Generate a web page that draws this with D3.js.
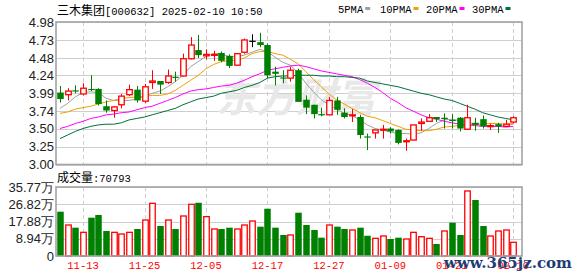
<!DOCTYPE html>
<html>
<head>
<meta charset="utf-8">
<style>
  body { margin: 0; background: #fff; }
  svg { display: block; }
  .ax { font-family: "Liberation Sans", Arial, sans-serif; font-size: 13px; fill: #222; }
  .mono { font-family: "Liberation Mono", monospace; }
  .cjk { font-family: "Noto Sans CJK SC", sans-serif; }
</style>
</head>
<body>
<svg id="chart" width="578" height="276"></svg>
<script src="https://cdn.jsdelivr.net/npm/d3@7"></script>
<script>

// trading days 2024-11-08 .. 2025-02-10
var dates = ["11-08","11-11","11-12","11-13","11-14","11-15","11-18","11-19","11-20","11-21",
             "11-22","11-25","11-26","11-27","11-28","11-29","12-02","12-03","12-04","12-05",
             "12-06","12-09","12-10","12-11","12-12","12-13","12-16","12-17","12-18","12-19",
             "12-20","12-23","12-24","12-25","12-26","12-27","12-30","12-31","01-02","01-03",
             "01-06","01-07","01-08","01-09","01-10","01-13","01-14","01-15","01-16","01-17",
             "01-20","01-21","01-22","01-23","01-24","01-27","02-05","02-06","02-07","02-10"];

var opens  = [4.00,3.97,4.03,3.98,4.05,4.05,3.81,3.75,3.83,3.97, 4.04,3.88,4.14,4.16,4.14,4.22,4.23,4.47,4.59,4.51,
              4.52,4.55,4.51,4.38,4.56,4.72,4.70,4.66,4.29,4.21, 4.20,4.31,3.90,3.83,3.70,3.69,3.89,3.72,3.68,3.66,
              3.39,3.44,3.48,3.50,3.48,3.32,3.34,3.57,3.60,3.66, 3.65,3.62,3.65,3.49,3.58,3.63,3.53,3.56,3.53,3.59];
var highs  = [4.09,4.06,4.10,4.13,4.24,4.06,3.89,3.81,3.98,4.11, 4.09,4.12,4.31,4.16,4.32,4.29,4.54,4.77,4.80,4.60,
              4.58,4.57,4.53,4.55,4.75,4.81,4.83,4.68,4.36,4.31, 4.36,4.33,3.96,3.83,3.79,3.94,3.94,3.78,3.77,3.69,
              3.43,3.48,3.55,3.52,3.49,3.36,3.55,3.64,3.70,3.66, 3.71,3.70,3.66,3.83,3.65,3.68,3.57,3.58,3.62,3.67];
var lows   = [3.86,3.89,3.99,3.96,4.02,3.82,3.72,3.65,3.78,3.95, 3.86,3.85,4.05,3.98,4.12,4.15,4.22,4.46,4.48,4.46,
              4.44,4.42,4.34,4.37,4.54,4.63,4.63,4.20,4.10,4.13, 4.15,3.87,3.70,3.64,3.67,3.69,3.69,3.64,3.59,3.36,
              3.20,3.36,3.36,3.43,3.28,3.19,3.34,3.47,3.60,3.59, 3.50,3.50,3.46,3.48,3.47,3.50,3.48,3.44,3.52,3.57];
var closes = [3.91,4.02,4.02,4.06,4.04,3.84,3.75,3.80,3.95,4.04, 3.89,4.08,4.16,4.11,4.23,4.21,4.47,4.66,4.52,4.53,
              4.53,4.44,4.37,4.54,4.73,4.72,4.66,4.24,4.26,4.20, 4.31,3.87,3.79,3.70,3.69,3.89,3.76,3.66,3.69,3.41,
              3.38,3.48,3.49,3.46,3.30,3.33,3.55,3.59,3.65,3.63, 3.63,3.61,3.50,3.65,3.55,3.53,3.54,3.53,3.56,3.65];

var ma5  = [3.78,3.85,3.94,4.00,4.01,4.00,3.92,3.89,3.89,3.89, 3.91,3.95,3.99,4.02,4.08,4.15,4.24,4.36,4.43,4.50,
            4.54,4.53,4.50,4.50,4.52,4.56,4.60,4.57,4.49,4.42, 4.38,4.27,4.13,4.01,3.90,3.83,3.77,3.71,3.68,3.62,
            3.55,3.50,3.48,3.45,3.43,3.43,3.42,3.44,3.50,3.57, 3.62,3.63,3.61,3.59,3.56,3.54,3.53,3.53,3.54,3.56];
var ma10 = [3.71,3.73,3.77,3.79,3.81,3.84,3.87,3.89,3.92,3.93, 3.94,3.95,3.96,3.96,3.98,4.03,4.10,4.17,4.24,4.33,
            4.39,4.43,4.44,4.45,4.48,4.54,4.57,4.57,4.54,4.52, 4.46,4.40,4.29,4.18,4.08,3.98,3.90,3.84,3.78,3.72,
            3.67,3.65,3.61,3.57,3.53,3.49,3.48,3.47,3.47,3.49, 3.52,3.53,3.54,3.55,3.56,3.56,3.57,3.57,3.56,3.57];
var ma20 = [3.50,3.53,3.57,3.60,3.64,3.66,3.69,3.70,3.72,3.73, 3.76,3.79,3.81,3.85,3.89,3.93,3.98,4.02,4.04,4.05,
            4.07,4.09,4.10,4.13,4.17,4.22,4.26,4.31,4.33,4.35, 4.37,4.38,4.36,4.33,4.30,4.28,4.26,4.24,4.22,4.18,
            4.13,4.07,4.00,3.92,3.86,3.79,3.74,3.69,3.65,3.63, 3.60,3.58,3.56,3.55,3.54,3.53,3.53,3.53,3.52,3.53];
var ma30 = [3.36,3.41,3.46,3.50,3.53,3.55,3.56,3.56,3.58,3.62, 3.64,3.66,3.69,3.72,3.75,3.78,3.83,3.87,3.91,3.93,
            3.95,3.99,4.01,4.03,4.07,4.10,4.14,4.20,4.22,4.23, 4.23,4.24,4.24,4.24,4.23,4.23,4.22,4.22,4.21,4.20,
            4.16,4.14,4.12,4.10,4.08,4.05,4.02,3.99,3.97,3.94, 3.91,3.89,3.85,3.81,3.77,3.72,3.69,3.66,3.64,3.62];

// volume in 万股, and whether the bar is drawn as "up" (red)
var volumes = [22.97,16.07,14.68,12.27,19.87,21.25,12.96,12.27,11.40,12.27, 14.00,18.66,27.30,15.55,18.66,14.00,20.74,26.80,27.60,20.40,
               14.00,14.00,14.68,14.00,16.07,18.14,15.20,24.50,14.68,10.89, 10.89,22.45,16.07,13.48,9.50,16.07,15.20,14.00,13.48,14.68,
               10.50,9.16,10.37,8.81,9.50,8.81,12.27,10.02,9.16,6.22, 12.96,17.28,10.89,33.70,29.03,15.55,10.37,12.96,13.48,7.10];
var volUp = [0,1,0,1,0,0,0,1,1,1, 0,1,1,0,1,0,1,1,0,1,
             1,0,0,1,1,1,0,0,0,0, 1,0,0,0,0,1,0,0,1,0,
             0,1,1,0,0,1,1,1,1,0, 1,0,0,1,0,0,1,1,1,1];

var priceTicks = [4.98,4.73,4.48,4.24,3.99,3.74,3.50,3.25,3.00];
var volTicks = [35.77,26.82,17.88,8.94,0];
var volTickLabels = ["35.77万","26.82万","17.88万","8.94万","0"];
var dateTicks = ["11-13","11-25","12-05","12-17","12-27","01-09","01-21","02-10"];

var maNames = ["5PMA","10PMA","20PMA","30PMA"];
var maColors = ["#a0a0a0","#f0a000","#ff00ff","#00703a"];

var RED = "#ff0000", GREEN = "#008000";

var svg = d3.select("#chart");
var left = 56, right = 522;
var pTop = 22, pBot = 164.5, vTop = 187, vBot = 256;

var x = d3.scaleLinear().domain([0, dates.length - 1]).range([60, 513.3]);
var y = d3.scaleLinear().domain([3.00, 4.98]).range([pBot, pTop]);
var yv = d3.scaleLinear().domain([0, 35.77]).range([vBot, vTop]);

function crisp(v) { return Math.round(v) + 0.5; }

// --- grids
function grid(scale, ticks, top, bot) {
  var g = svg.append("g");
  g.selectAll("line.h").data(ticks).enter().append("line")
    .attr("x1", left).attr("x2", right)
    .attr("y1", function(d) { return crisp(scale(d)); })
    .attr("y2", function(d) { return crisp(scale(d)); })
    .attr("stroke", "#cfcfcf");
  g.selectAll("line.v").data(dateTicks).enter().append("line")
    .attr("x1", function(d) { return crisp(x(dates.indexOf(d))); })
    .attr("x2", function(d) { return crisp(x(dates.indexOf(d))); })
    .attr("y1", top).attr("y2", bot)
    .attr("stroke", "#cfcfcf")
    .attr("stroke-dasharray", "4,3");
}
grid(y, priceTicks, pTop, pBot);
grid(yv, volTicks, vTop, vBot);

// watermark
svg.append("text")
  .attr("x", 296).attr("y", 112)
  .attr("text-anchor", "middle")
  .attr("class", "cjk")
  .attr("font-size", 40).attr("font-weight", "bold").attr("font-style", "italic")
  .attr("fill", "#e8e8e8")
  .text("东方财富");

// --- MA lines
var maData = [ma5, ma10, ma20, ma30];
maData.forEach(function(arr, k) {
  var line = d3.line()
    .x(function(d, i) { return x(i); })
    .y(function(d) { return y(d); });
  svg.append("path")
    .datum(arr)
    .attr("fill", "none")
    .attr("stroke", maColors[k])
    .attr("stroke-width", 1)
    .attr("d", line);
});

// --- candles
var bw = 5.5;
var candles = svg.append("g").selectAll("g").data(dates).enter().append("g");
candles.each(function(d, i) {
  var g = d3.select(this);
  var o = opens[i], c = closes[i];
  var col = c > o ? RED : (c < o ? GREEN : "#000");
  var cx = Math.round(x(i)) + 0.5;
  var top = y(Math.max(o, c)), bot = y(Math.min(o, c));
  if (c > o) {
    g.append("line").attr("x1", cx).attr("x2", cx).attr("y1", y(highs[i])).attr("y2", top).attr("stroke", col);
    g.append("line").attr("x1", cx).attr("x2", cx).attr("y1", bot).attr("y2", y(lows[i])).attr("stroke", col);
    g.append("rect").attr("x", cx - bw / 2).attr("y", top)
      .attr("width", bw).attr("height", Math.max(bot - top, 1))
      .attr("fill", "#fff").attr("stroke", col).attr("stroke-width", 1.3);
  } else {
    g.append("line").attr("x1", cx).attr("x2", cx).attr("y1", y(highs[i])).attr("y2", y(lows[i])).attr("stroke", col);
    g.append("rect").attr("x", cx - bw / 2 - 0.5).attr("y", top)
      .attr("width", bw + 1).attr("height", Math.max(bot - top, 1.2))
      .attr("fill", col);
  }
});

// --- volume bars
svg.append("g").selectAll("rect").data(volumes).enter().append("rect")
  .each(function(v, i) {
    var cx = Math.round(x(i)) + 0.5;
    var r = d3.select(this);
    if (volUp[i]) {
      r.attr("x", cx - bw / 2).attr("y", yv(v)).attr("width", bw).attr("height", vBot - yv(v))
        .attr("fill", "#fff").attr("stroke", RED).attr("stroke-width", 1.3);
    } else {
      r.attr("x", cx - bw / 2 - 0.5).attr("y", yv(v)).attr("width", bw + 1).attr("height", vBot - yv(v))
        .attr("fill", GREEN);
    }
  });

// --- frames
[[pTop, pBot], [vTop, vBot]].forEach(function(f) {
  svg.append("rect")
    .attr("x", left).attr("y", f[0])
    .attr("width", right - left).attr("height", f[1] - f[0])
    .attr("fill", "none").attr("stroke", "#a3a3a3").attr("stroke-width", 1.6);
});

// --- axis labels
svg.append("g").selectAll("text").data(priceTicks).enter().append("text")
  .attr("class", "ax")
  .attr("x", 54).attr("y", function(d) { return y(d); })
  .attr("dy", "0.35em")
  .attr("text-anchor", "end")
  .text(function(d) { return d.toFixed(2); });

svg.append("g").selectAll("text").data(volTicks).enter().append("text")
  .attr("class", "ax")
  .attr("x", 54).attr("y", function(d) { return yv(d); })
  .attr("dy", "0.35em")
  .attr("text-anchor", "end")
  .text(function(d, i) { return volTickLabels[i]; });

svg.append("g").selectAll("text").data(dateTicks).enter().append("text")
  .attr("class", "mono")
  .attr("font-size", 10.5)
  .attr("fill", RED)
  .attr("x", function(d) { return x(dates.indexOf(d)); })
  .attr("y", 269)
  .attr("text-anchor", "middle")
  .text(function(d) { return d; });

// --- title and legend
var title = svg.append("text").attr("x", 57).attr("y", 15);
title.append("tspan").attr("class", "cjk").attr("font-size", 12).text("三木集团");
title.append("tspan").attr("class", "mono").attr("font-size", 10.5).text("[000632] 2025-02-10 10:50");

var volTitle = svg.append("text").attr("x", 57).attr("y", 182);
volTitle.append("tspan").attr("class", "cjk").attr("font-size", 12).text("成交量");
volTitle.append("tspan").attr("class", "mono").attr("font-size", 10.5).text(":70793");

var legX = [338, 380, 426, 472];
var leg = svg.append("g").selectAll("g").data(maNames).enter().append("g")
  .attr("transform", function(d, i) { return "translate(" + legX[i] + ",0)"; });
leg.append("text")
  .attr("class", "mono").attr("font-size", 10.5)
  .attr("y", 13)
  .text(function(d) { return d; });
leg.append("rect")
  .attr("x", function(d) { return d.length * 6.3 + 2; })
  .attr("y", 7).attr("width", 5).attr("height", 3)
  .attr("fill", function(d, i) { return maColors[i]; });

// site stamp
svg.append("text")
  .attr("x", 572).attr("y", 268)
  .attr("text-anchor", "end")
  .attr("font-family", "DejaVu Serif, serif")
  .attr("font-weight", "bold")
  .attr("font-size", 15)
  .attr("fill", "#1f3c74")
  .text("www.365jz.com");

</script>
</body>
</html>
